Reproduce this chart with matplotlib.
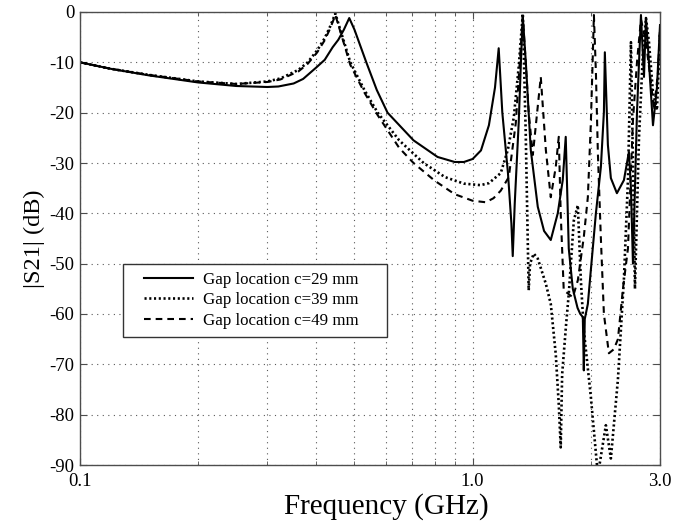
import matplotlib
matplotlib.use("Agg")
import matplotlib.pyplot as plt
from matplotlib.ticker import FixedLocator, NullFormatter
from matplotlib.lines import Line2D
from matplotlib.legend_handler import HandlerLine2D

plt.rcParams['font.family'] = ['Liberation Serif', 'DejaVu Serif']

# ---- data (frequency in GHz, |S21| in dB) ----
freq_c29 = [0.10, 0.12, 0.15, 0.20, 0.25, 0.30, 0.32, 0.35, 0.37, 0.40, 0.42, 0.44, 0.455,
            0.47, 0.485, 0.50, 0.536, 0.57, 0.607, 0.707, 0.814, 0.90, 0.95, 1.00, 1.05,
            1.10, 1.14, 1.165, 1.19, 1.23, 1.255, 1.265, 1.28, 1.31, 1.33, 1.342, 1.366,
            1.406, 1.465, 1.52, 1.581, 1.647, 1.696, 1.726, 1.757, 1.799, 1.85, 1.88,
            1.908, 1.919, 1.93, 1.965, 2.024, 2.06, 2.121, 2.159, 2.171, 2.21, 2.249,
            2.33, 2.428, 2.50, 2.53, 2.56, 2.621, 2.683, 2.731, 2.763, 2.812, 2.879,
            2.947, 3.0]
s21_c29 = [-10, -11.3, -12.6, -14.0, -14.7, -14.9, -14.8, -14.2, -13.3, -11.0, -9.5, -7.0, -5.5,
           -3.5, -1.2, -3.5, -10, -15.5, -20, -25.5, -28.8, -29.8, -29.8, -29.2, -27.5,
           -22.5, -15, -7.2, -20, -32, -42, -48.5, -38, -22, -8, -1.0, -10,
           -27.4, -38.7, -43.5, -45.3, -40, -33.4, -24.8, -47, -55, -58.8, -60,
           -60.6, -71.2, -61, -58, -46.7, -40, -30.8, -19.9, -8, -26.4, -33,
           -36, -33.4, -27.8, -35, -50, -20, -0.6, -12.9, -1.2, -10, -22.5,
           -15, -2.6]

freq_c39 = [0.10, 0.12, 0.15, 0.20, 0.25, 0.30, 0.324, 0.36, 0.38, 0.402, 0.42, 0.434, 0.447,
            0.46, 0.488, 0.53, 0.573, 0.65, 0.75, 0.85, 0.95, 1.048, 1.10, 1.179, 1.229,
            1.273, 1.31, 1.342, 1.365, 1.389, 1.40, 1.431, 1.465, 1.536, 1.581, 1.628,
            1.657, 1.676, 1.69, 1.73, 1.757, 1.81, 1.853, 1.886, 1.919, 2.0, 2.084,
            2.184, 2.249, 2.344, 2.428, 2.486, 2.53, 2.56, 2.59, 2.652, 2.715, 2.763,
            2.812, 2.879, 2.947, 3.0]
s21_c39 = [-10, -11.3, -12.5, -13.8, -14.3, -13.8, -13.2, -11.5, -10.0, -7.6, -5.2, -2.8, -0.3,
           -3.5, -10, -15.5, -20, -25.5, -30, -32.8, -34.1, -34.4, -34, -32, -27.4,
           -20.9, -10.9, -0.3, -24, -55.3, -50, -48, -49, -54, -58, -68,
           -78, -86.5, -72, -62, -56, -41.4, -38.4, -53.3, -63.2, -76.5, -92,
           -82.1, -88.7, -73, -53, -33.4, -6, -30, -55, -25, -8, -1.2,
           -6, -16, -19.5, -4]

freq_c49 = [0.10, 0.12, 0.15, 0.20, 0.25, 0.30, 0.324, 0.36, 0.38, 0.402, 0.42, 0.434, 0.447,
            0.46, 0.488, 0.53, 0.573, 0.65, 0.707, 0.80, 0.90, 1.00, 1.08, 1.13, 1.179,
            1.236, 1.288, 1.318, 1.342, 1.365, 1.389, 1.423, 1.491, 1.536, 1.581, 1.628,
            1.657, 1.676, 1.706, 1.747, 1.799, 1.853, 1.919, 1.965, 2.0, 2.024, 2.036,
            2.06, 2.084, 2.121, 2.159, 2.223, 2.289, 2.344, 2.414, 2.486, 2.56, 2.621,
            2.683, 2.763, 2.845, 2.896, 2.965, 3.0]
s21_c49 = [-10, -11.3, -12.5, -13.8, -14.3, -13.9, -13.4, -11.8, -10.3, -8.0, -5.6, -3.2, -0.6,
           -3.8, -10.5, -16, -20.5, -27, -30, -33.5, -36.2, -37.5, -37.8, -37, -35.5,
           -32.8, -22, -10, -1.0, -10, -20, -28.4, -12.9, -27.4, -36.8, -30.8,
           -24.8, -40, -55.3, -55.9, -56.7, -53.3, -44.7, -36.8, -22, -8, -0.6,
           -12, -28, -45, -60, -67.8, -67, -65, -55, -47, -21.5, -10,
           -1.5, -6, -14, -19.5, -12, -3.5]

labels = ["Gap location c=29 mm", "Gap location c=39 mm", "Gap location c=49 mm"]
xtick_vals = [0.1, 1.0, 3.0]
xtick_text = ["0.1", "1.0", "3.0"]
ytick_vals = [0, -10, -20, -30, -40, -50, -60, -70, -80, -90]

fig = plt.figure(figsize=(6.82, 5.23), dpi=100)
ax = fig.add_axes([80/682, 1 - 465/523, 580/682, 453/523])

ax.plot(freq_c29, s21_c29, color='black', lw=1.5, linestyle='-', label=labels[0])
ax.plot(freq_c39, s21_c39, color='black', lw=1.9, linestyle=(0, (0.8, 1.0)), label=labels[1])
ax.plot(freq_c49, s21_c49, color='black', lw=1.5, linestyle=(0, (3.2, 2.4)), label=labels[2])

ax.set_xscale('log')
ax.set_xlim(0.1, 3.0)
ax.set_ylim(-90, 0)
ax.xaxis.set_major_locator(FixedLocator(xtick_vals))
ax.set_xticklabels(xtick_text)
ax.xaxis.set_minor_locator(FixedLocator([0.2, 0.3, 0.4, 0.5, 0.6, 0.7, 0.8, 0.9, 2.0]))
ax.xaxis.set_minor_formatter(NullFormatter())
ax.set_yticks(ytick_vals)
ax.set_yticklabels([str(v) for v in ytick_vals])

ax.tick_params(axis='both', which='both', direction='in', top=True, right=True,
               labelsize=13.5, color='0.3')
ax.tick_params(axis='both', which='major', length=5)
ax.tick_params(axis='both', which='minor', length=3)
ax.tick_params(axis='y', pad=4)
ax.tick_params(axis='x', pad=6)

grid_kw = dict(color='0.35', linestyle=(0, (1, 4)), linewidth=0.8)
ax.grid(True, which='major', axis='both', **grid_kw)
ax.grid(True, which='minor', axis='x', **grid_kw)
ax.set_axisbelow(True)

for s in ax.spines.values():
    s.set_color('0.3')
    s.set_linewidth(1.0)

ax.set_xlabel("Frequency (GHz)", fontsize=21)
ax.xaxis.set_label_coords(0.528, -0.062)
ax.set_ylabel("|S21| (dB)", fontsize=17.5, labelpad=3)

leg = ax.legend(loc='lower left', bbox_to_anchor=(43/580, (465-337)/453, 264/580, 69/453),
                mode='expand', fontsize=12.2, frameon=True, fancybox=False, framealpha=1,
                edgecolor='0.2', borderaxespad=0, handlelength=3.65,
                handletextpad=0.6, labelspacing=0.25, borderpad=0.5,
                handler_map={Line2D: HandlerLine2D(xpad=0.72)})
leg.get_frame().set_linewidth(1.0)

fig.savefig("out.png", dpi=100)
